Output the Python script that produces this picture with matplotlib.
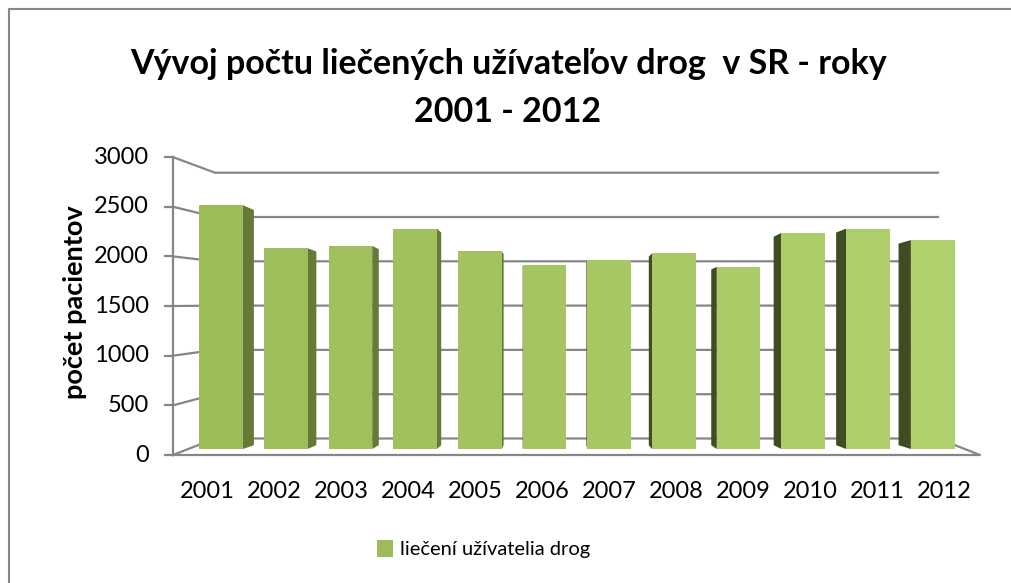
import numpy as np
import matplotlib
matplotlib.use("Agg")
import matplotlib.pyplot as plt
from matplotlib.patches import Polygon, Patch
from matplotlib.lines import Line2D
from matplotlib.colors import to_rgb

plt.rcParams['font.family'] = ['Lato', 'DejaVu Sans']

# data
years = ['2001', '2002', '2003', '2004', '2005', '2006',
         '2007', '2008', '2009', '2010', '2011', '2012']
patients = [2550, 2100, 2125, 2305, 2070, 1920, 1975, 2045, 1905, 2260, 2305, 2185]
yticks = [0, 500, 1000, 1500, 2000, 2500, 3000]

title = 'Vývoj počtu liečených užívateľov drog  v SR - roky\n2001 - 2012'
ylabel = 'počet pacientov'
series_name = 'liečení užívatelia drog'

W, H = 1011, 583
fig = plt.figure(figsize=(W / 100, H / 100), dpi=100)

# geometry of the fake 3d view (pixels)
X0, PX_CAT = 221.0, 64.7      # bar plane: centre of first bar, px per category
Y0, PX_VAL = 449.0, 0.0956    # bar plane: baseline, px per unit
FRONT_X, BACK_X, BACK_RX = 173, 215, 938
FRONT_Y0, FRONT_S = 455.0, 0.0993
BACK_Y0, BACK_S = 438.5, 0.0886
VP = (559.0, 340.0)           # vanishing point for bar sides
DEPTH = 0.035
BAR_W = 0.675
GRID = '#868686'


def px(X, Y):
    return ((X - X0) / PX_CAT, (Y0 - Y) / PX_VAL)


ax_l, ax_r, ax_t, ax_b = 150, 1000, 150, 470
ax = fig.add_axes([ax_l / W, (H - ax_b) / H, (ax_r - ax_l) / W, (ax_b - ax_t) / H])
ax.set_xlim(px(ax_l, 0)[0], px(ax_r, 0)[0])
ax.set_ylim(px(0, ax_b)[1], px(0, ax_t)[1])
ax.axis('off')

# back wall gridlines
for v in yticks:
    fy = FRONT_Y0 - FRONT_S * v
    by = BACK_Y0 - BACK_S * v
    pts = [px(FRONT_X, fy), px(BACK_X, by), px(BACK_RX, by)]
    ax.plot([p[0] for p in pts], [p[1] for p in pts], color=GRID, lw=1.6,
            zorder=1, clip_on=False)
    t0, t1 = px(FRONT_X - 8, fy), px(FRONT_X, fy)
    ax.plot([t0[0], t1[0]], [t0[1], t1[1]], color=GRID, lw=1.6, zorder=1, clip_on=False)
    lab = px(149, fy)
    ax.text(lab[0], lab[1], str(v), ha='right', va='center', fontsize=17,
            color='#000000', clip_on=False)

# floor edges and front vertical axis
f0 = px(FRONT_X, FRONT_Y0)
f1 = px(980, FRONT_Y0)
b1 = px(BACK_RX, BACK_Y0)
top = px(FRONT_X, FRONT_Y0 - FRONT_S * yticks[-1])
ax.plot([f0[0], f1[0], b1[0]], [f0[1], f1[1], b1[1]], color=GRID, lw=1.6, zorder=1, clip_on=False)
ax.plot([top[0], f0[0]], [top[1], f0[1]], color=GRID, lw=1.6, zorder=1, clip_on=False)

# bars
idx = np.arange(len(years))
c_left, c_right = np.array(to_rgb('#9cbc5a')), np.array(to_rgb('#b0d06e'))
colors = [c_left + (c_right - c_left) * i / (len(years) - 1) for i in idx]
ax.bar(idx, patients, width=BAR_W, color=colors, zorder=3)

vp = np.array(px(*VP))
for i, v in zip(idx, patients):
    xr = i + BAR_W / 2
    xl = i - BAR_W / 2
    if xr < vp[0]:
        xe, side_col = xr, '#667a38'
    else:
        xe, side_col = xl, '#404d23'
    ft = np.array([xe, v])
    fb = np.array([xe, 0.0])
    bt = vp + (1 - DEPTH) * (ft - vp)
    bb = vp + (1 - DEPTH) * (fb - vp)
    ax.add_patch(Polygon([ft, bt, bb, fb], closed=True, facecolor=side_col,
                         edgecolor='none', zorder=2.5))

# category labels on the front edge
for i, y in enumerate(years):
    p = px(207 + 67 * i, 492)
    ax.text(p[0], p[1], y, ha='center', va='center', fontsize=17, clip_on=False)

fig.text(75 / W, 1 - 302 / H, ylabel, rotation=90, ha='center', va='center',
         fontsize=19.5, fontweight='bold')
fig.text(508 / W, 1 - 48 / H, title, ha='center', va='top', fontsize=24.5,
         fontweight='bold', linespacing=1.6)

fig.legend(handles=[Patch(facecolor=colors[0], label=series_name)], loc='center',
           bbox_to_anchor=(484 / W, 1 - 549 / H), frameon=False, fontsize=14.5,
           handlelength=0.8, handleheight=0.9, handletextpad=0.35)

# chart frame (top and left visible)
fy = 1 - 9 / H
fig.add_artist(Line2D([9 / W, 9 / W, 1], [0, fy, fy], color=GRID, lw=1.5))

fig.savefig('out.png', dpi=100)
